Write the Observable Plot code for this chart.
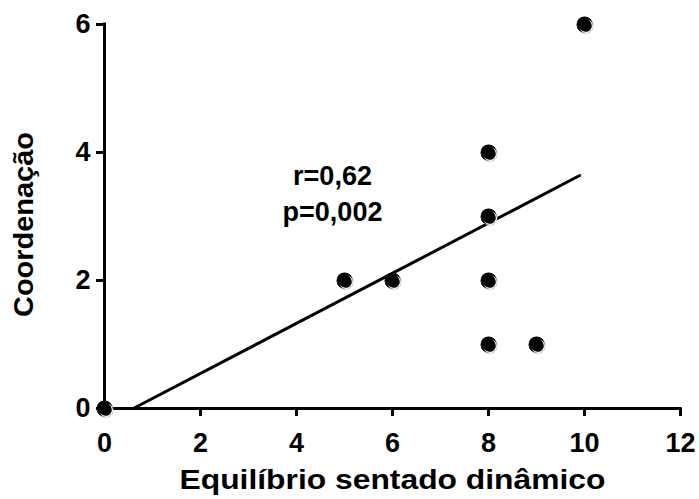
<!DOCTYPE html>
<html>
<head>
<meta charset="utf-8">
<script src="https://cdn.jsdelivr.net/npm/d3@7"></script>
<script src="https://cdn.jsdelivr.net/npm/@observablehq/plot@0.6"></script>
<style>
  html, body { margin: 0; padding: 0; background: #fff; }
</style>
</head>
<body>
<div id="chart"></div>
<script>
// Data
const pointX = [0, 5, 6, 8, 8, 8, 8, 9, 10];
const pointY = [0, 2, 2, 4, 3, 2, 1, 1, 6];
const fitX = [0.6, 9.9];
const fitY = [0, 3.64];
const xTicks = [0, 2, 4, 6, 8, 10, 12];
const yTicks = [0, 2, 4, 6];
const annoText = ["r=0,62", "p=0,002"];
const annoX = [4.75, 4.75];
const annoY = [3.63, 3.07];
const xTitle = "Equilíbrio sentado dinâmico";
const yTitle = "Coordenação";

const points = pointX.map((x, i) => ({x, y: pointY[i]}));
const fit = fitX.map((x, i) => ({x, y: fitY[i]}));
const anno = annoText.map((t, i) => ({t, x: annoX[i], y: annoY[i]}));

const font = "'Liberation Sans', Arial, Helvetica, sans-serif";

const chart = Plot.plot({
  width: 699,
  height: 499,
  marginLeft: 104,
  marginRight: 19,
  marginTop: 24,
  marginBottom: 91,
  style: {fontFamily: font, fontSize: "27px", fontWeight: "bold", color: "black", background: "white"},
  x: {domain: [0, 12]},
  y: {domain: [0, 6]},
  marks: [
    Plot.axisX({ticks: xTicks, tickFormat: d3.format("d"), tickSize: 8, tickPadding: 16, strokeWidth: 3, label: null, fontSize: 27, fontWeight: "bold"}),
    Plot.axisY({ticks: yTicks, tickFormat: d3.format("d"), tickSize: 8, tickPadding: 6, strokeWidth: 3, label: null, fontSize: 27, fontWeight: "bold"}),
    Plot.ruleX([0], {y1: 0, y2: 6, strokeWidth: 3, strokeLinecap: "square"}),
    Plot.ruleY([0], {x1: 0, x2: 12, strokeWidth: 3, strokeLinecap: "square"}),
    Plot.line(fit, {x: "x", y: "y", stroke: "black", strokeWidth: 3}),
    Plot.dot(points, {x: "x", y: "y", r: 8, fill: "#999", dx: 1, dy: 1}),
    Plot.dot(points, {x: "x", y: "y", r: 8, fill: "black"}),
    Plot.dot(points, {x: "x", y: "y", r: 6.3, fill: "none", stroke: "white", strokeWidth: 1.2, dx: 1.6, dy: 1.6}),
    Plot.dot(points, {x: "x", y: "y", r: 6.6, fill: "black", dx: -0.2, dy: -0.2}),
    Plot.text(anno, {x: "x", y: "y", text: "t", fontSize: 27, fontWeight: "bold", fill: "black", textAnchor: "middle"}),
    Plot.text([xTitle], {frameAnchor: "bottom", textAnchor: "middle", dy: 72, fontSize: 28, fontWeight: "bold", fill: "black", lineAnchor: "middle"}),
    Plot.text([yTitle], {frameAnchor: "left", textAnchor: "middle", rotate: -90, dx: -80, dy: 8, fontSize: 28, fontWeight: "bold", fill: "black", lineAnchor: "middle"})
  ]
});

// Stretch the axis titles horizontally, as in the reference
d3.select(chart).selectAll("text").each(function() {
  const t = this.textContent;
  if (t === xTitle) d3.select(this).attr("textLength", 426).attr("lengthAdjust", "spacingAndGlyphs");
  if (t === yTitle) d3.select(this).attr("textLength", 185).attr("lengthAdjust", "spacingAndGlyphs");
});

document.getElementById("chart").appendChild(chart);
</script>
</body>
</html>
